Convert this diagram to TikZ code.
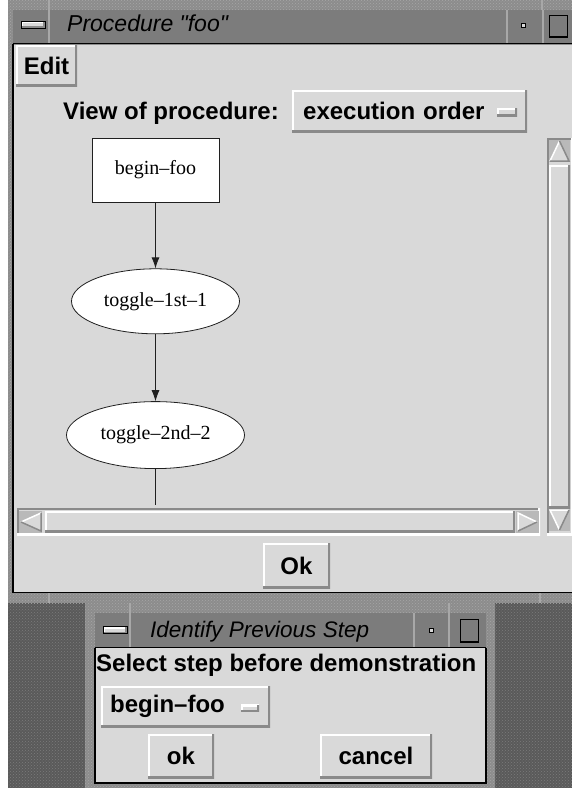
\documentclass[tikz,border=0pt]{standalone}
\usepackage{fontspec}
\setmainfont{Liberation Serif}
\newfontfamily\guifont{Liberation Sans}
\usetikzlibrary{positioning, arrows.meta, calc, shapes.geometric, patterns}
\definecolor{panelGray}{HTML}{D9D9D9}
\definecolor{shadeGray}{HTML}{8A8A8A}
\definecolor{titleGray}{HTML}{7C7C7C}
\definecolor{frameGray}{HTML}{8C8C8C}
\definecolor{frameDots}{HTML}{A6A6A6}
\definecolor{deskGray}{HTML}{5A5A5A}
\definecolor{deskDots}{HTML}{7C7C7C}
\definecolor{sepLight}{HTML}{A8A8A8}
\definecolor{graphDark}{HTML}{202020}
\definecolor{arrowGray}{HTML}{B9B9B9}
\tikzstyle{guitext} =[font=\guifont\bfseries\fontsize{24}{28}\selectfont, inner sep=0pt]
\tikzstyle{titletext} =[font=\guifont\itshape\fontsize{22.5}{27}\selectfont, inner sep=0pt]
\tikzstyle{graphtext} =[font=\fontsize{20}{24}\selectfont, draw=graphDark, fill=white, line width=0.8pt, inner sep=0pt]
\tikzstyle{raised} =[fill=panelGray, inner sep=0pt, path picture={
  \draw[white, line width=4pt] (path picture bounding box.south west) -- (path picture bounding box.north west) -- (path picture bounding box.north east);
  \draw[shadeGray, line width=4pt] (path picture bounding box.south west) -- (path picture bounding box.south east) -- (path picture bounding box.north east);}]
\tikzstyle{sunken} =[fill=panelGray, inner sep=0pt, path picture={
  \draw[shadeGray, line width=4pt] (path picture bounding box.south west) -- (path picture bounding box.north west) -- (path picture bounding box.north east);
  \draw[white, line width=4pt] (path picture bounding box.south west) -- (path picture bounding box.south east) -- (path picture bounding box.north east);}]
\tikzstyle{button} =[raised, guitext]
\tikzstyle{arrowbox} =[fill=arrowGray, inner sep=0pt, minimum width=21pt, minimum height=22pt]
\begin{document}
\begin{tikzpicture}[x=1pt, y=-1pt]
\useasboundingbox (0,0) rectangle (572,788);
\fill[white] (0,0) rectangle (572,788);
\fill[deskGray] (8,603) rectangle (572,788);
\fill[pattern=crosshatch dots, pattern color=deskDots] (8,603) rectangle (572,788);

% main window
\fill[frameGray] (8,0) rectangle (580,603);
\fill[pattern=crosshatch dots, pattern color=frameDots] (8,0) rectangle (580,603);
\draw[sepLight, line width=1.5pt] (49,0) -- (49,10) (542,0) -- (542,10) (49,593) -- (49,603) (540,593) -- (540,603);
\fill[titleGray] (13,10) rectangle (580,43);
\draw[sepLight, line width=2pt] (49,10) -- (49,43) (507,10) -- (507,43) (543,10) -- (543,43);
\draw[black, line width=1.5pt] (13,43.5) -- (580,43.5);
\fill[panelGray] (13,44.5) rectangle (580,592);
\draw[black, line width=1.5pt] (13,44) -- (13,592.5) -- (580,592.5);

\node (procMenu) [raised, draw=black, line width=0.8pt, minimum width=24pt, minimum height=7pt] at (33,24.5) {};
\node (procTitle) [titletext, font=\guifont\itshape\fontsize{23}{27}\selectfont, anchor=base west] at (67,31) {Procedure "foo"};
\draw[black, line width=1pt, fill=panelGray] (521,23) rectangle (525,27);
\draw[black, line width=1.5pt] (549.5,15.5) rectangle (567.5,37);

\node (editBtn) [button, minimum width=61pt, minimum height=41pt] at (46.5,65.5) {Edit};
\node (viewLabel) [guitext, anchor=base west] at (63,119) {View of procedure:};
\node (viewMenu) [button, text width=213pt, align=left, inner xsep=11pt, minimum height=42pt, anchor=west] at (292,111) {execution order};
\node (viewMark) [raised, minimum width=20pt, minimum height=8pt] at (507,112) {};

% graph
\node (beginFoo) [graphtext, minimum width=127pt, minimum height=64pt] at (155.5,170) {begin–foo};
\node (toggleFirst) [graphtext, ellipse, minimum width=168pt, minimum height=65pt, below=66pt of beginFoo] {toggle–1st–1};
\node (toggleSecond) [graphtext, ellipse, minimum width=178pt, minimum height=67pt, below=67pt of toggleFirst] {toggle–2nd–2};
\coordinate [below=36pt of toggleSecond] (graphEnd);

\draw[-{Latex[length=11pt, width=8pt]}, line width=0.8pt, graphDark]
	(beginFoo) edge (toggleFirst)
	(toggleFirst) edge (toggleSecond);
\draw[line width=0.8pt, graphDark] (toggleSecond) -- (graphEnd);

% scrollbars
\node (hScroll) [sunken, minimum width=523pt, minimum height=27pt] at (278.5,521.5) {};
\node (hLeft) [arrowbox, minimum width=23pt] at (30.5,522) {};
\node (hSlider) [raised, minimum width=470pt, minimum height=21pt] at (280,521.5) {};
\node (hRight) [arrowbox, minimum width=23pt] at (527.5,522) {};
\fill[panelGray] (21,522) -- (41,513) -- (41,531) -- cycle;
\draw[white, line width=1.5pt] (21,522) -- (41,513);
\draw[shadeGray, line width=1.5pt] (21,522) -- (41,531) -- (41,513);
\fill[panelGray] (537,522) -- (518,513) -- (518,531) -- cycle;
\draw[white, line width=1.5pt] (518,531) -- (518,513) -- (537,522);
\draw[shadeGray, line width=1.5pt] (537,522) -- (518,531);

\node (vScroll) [sunken, minimum width=26pt, minimum height=397pt] at (560,336.5) {};
\node (vUp) [arrowbox] at (559.5,151) {};
\node (vSlider) [raised, minimum width=21pt, minimum height=343pt] at (559.5,336.5) {};
\node (vDown) [arrowbox] at (559.5,520) {};
\fill[panelGray] (559.5,141) -- (550,161) -- (569,161) -- cycle;
\draw[white, line width=1.5pt] (550,161) -- (559.5,141);
\draw[shadeGray, line width=1.5pt] (559.5,141) -- (569,161) -- (550,161);
\fill[panelGray] (559.5,530) -- (550,510) -- (569,510) -- cycle;
\draw[white, line width=1.5pt] (559.5,530) -- (550,510) -- (569,510);
\draw[shadeGray, line width=1.5pt] (569,510) -- (559.5,530);

\node (okBtn) [button, minimum width=67pt, minimum height=45pt] at (296.5,565.5) {Ok};

% dialog
\fill[frameGray] (85,603) rectangle (495,800);
\fill[pattern=crosshatch dots, pattern color=frameDots] (85,603) rectangle (495,800);
\draw[sepLight, line width=1.5pt] (130,603) -- (130,613) (449,603) -- (449,613);
\fill[titleGray] (95,613) rectangle (486,647);
\draw[sepLight, line width=2pt] (130,613) -- (130,647) (414,613) -- (414,647) (449,613) -- (449,647);
\draw[black, line width=1.5pt] (95,647.5) -- (486,647.5);
\fill[panelGray] (95,648) rectangle (486,783);
\draw[black, line width=1.5pt] (95,648) -- (95,783) -- (486,783) -- (486,648);

\node (stepMenuBar) [raised, draw=black, line width=0.8pt, minimum width=24pt, minimum height=7pt] at (115,630) {};
\node (stepTitle) [titletext, anchor=base west] at (150,637) {Identify Previous Step};
\draw[black, line width=1pt, fill=panelGray] (429,628) rectangle (433,632);
\draw[black, line width=1.5pt] (460.5,619.5) rectangle (478.5,642);

\node (selectLabel) [guitext, anchor=base west] at (96,671) {Select step before demonstration};
\node (stepMenu) [button, text width=151pt, align=left, inner xsep=9pt, minimum height=41pt, anchor=west] at (101,706.5) {begin–foo};
\node (stepMark) [raised, minimum width=18pt, minimum height=7pt] at (250,708) {};
\node (okStep) [button, minimum width=66pt, minimum height=44pt] at (181,756) {ok};
\node (cancelStep) [button, minimum width=112pt, minimum height=44pt] at (376,756) {cancel};
\end{tikzpicture}
\end{document}
